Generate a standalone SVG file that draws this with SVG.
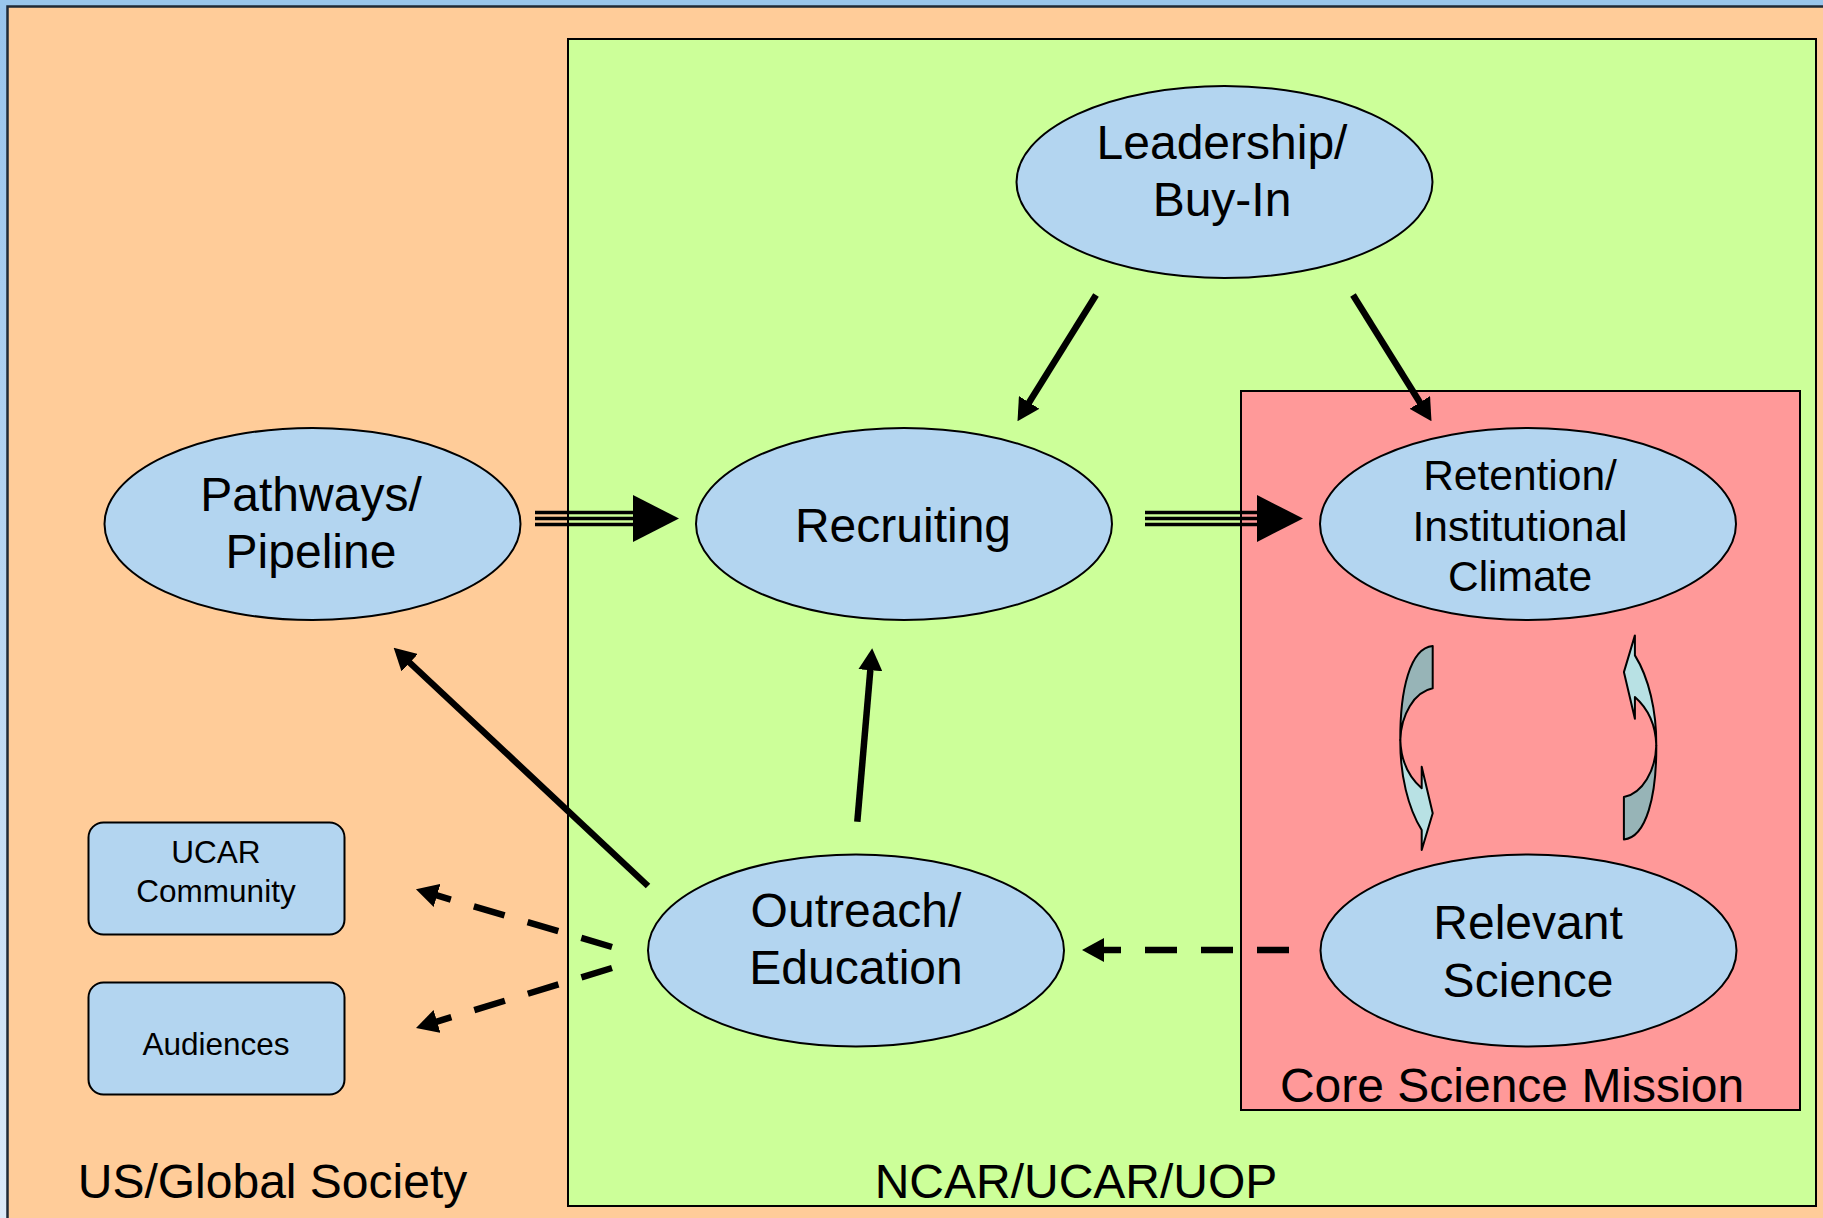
<svg xmlns="http://www.w3.org/2000/svg" width="1823" height="1218" viewBox="0 0 1823 1218">
  <defs>
    <linearGradient id="bgGrad" x1="0" y1="0" x2="0" y2="1">
      <stop offset="0" stop-color="#98C4EC"/>
      <stop offset="1" stop-color="#DCEAF8"/>
    </linearGradient>
    <marker id="ah" viewBox="0 0 22 24" markerWidth="22" markerHeight="24" refX="1" refY="12" orient="auto" markerUnits="userSpaceOnUse">
      <path d="M0,0 L22,12 L0,24 z" fill="#000"/>
    </marker>
    <marker id="bigah" viewBox="0 0 46 47" markerWidth="46" markerHeight="47" refX="1" refY="23.5" orient="auto" markerUnits="userSpaceOnUse">
      <path d="M0,0 L46,23.5 L0,47 z" fill="#000"/>
    </marker>
    <style>
      .lbl { font-family: "Liberation Sans", Arial, sans-serif; fill: #000; }
      .big { font-size: 48px; }
      .mid { font-size: 42.5px; }
      .small { font-size: 31.5px; }
      .node { fill: #B3D5F0; stroke: #000; stroke-width: 2; }
      .solid { stroke: #000; stroke-width: 6.5; fill: none; marker-end: url(#ah); }
      .dashed { stroke: #000; stroke-width: 6.5; fill: none; stroke-dasharray: 32 24; marker-end: url(#ah); }
      .triple { stroke: #000; stroke-width: 3.6; fill: none; }
      .cdark { fill: #97B4B7; stroke: #000; stroke-width: 2; stroke-linejoin: round; }
      .clight { fill: #B8E1E4; stroke: #000; stroke-width: 2; stroke-linejoin: round; }
    </style>
  </defs>

  <!-- background -->
  <rect x="0" y="0" width="1823" height="1218" fill="url(#bgGrad)"/>
  <rect x="0" y="0" width="1823" height="8" fill="#99C6EC"/>

  <g id="us-global-society">
    <rect x="7.5" y="6.5" width="1830" height="1230" fill="#FFCC99" stroke="#1F2A36" stroke-width="2.5"/>
    <text class="lbl big" x="272.5" y="1198" text-anchor="middle">US/Global Society</text>
  </g>

  <g id="ncar-ucar-uop">
    <rect x="568" y="39" width="1248" height="1167" fill="#CCFF99" stroke="#000" stroke-width="2"/>
    <text class="lbl big" x="1076" y="1198" text-anchor="middle">NCAR/UCAR/UOP</text>
  </g>

  <g id="core-science-mission">
    <rect x="1241" y="391" width="559" height="719" fill="#FF9999" stroke="#000" stroke-width="2"/>
    <text class="lbl big" x="1512" y="1102" text-anchor="middle">Core Science Mission</text>
  </g>

  <g id="leadership">
    <ellipse class="node" cx="1224.5" cy="182" rx="208" ry="96"/>
    <text class="lbl big" x="1222" y="159" text-anchor="middle">Leadership/</text>
    <text class="lbl big" x="1222" y="216" text-anchor="middle">Buy-In</text>
  </g>

  <g id="pathways">
    <ellipse class="node" cx="312.5" cy="524" rx="208" ry="96"/>
    <text class="lbl big" x="311" y="511" text-anchor="middle">Pathways/</text>
    <text class="lbl big" x="311" y="568" text-anchor="middle">Pipeline</text>
  </g>

  <g id="recruiting">
    <ellipse class="node" cx="904" cy="524" rx="208" ry="96"/>
    <text class="lbl big" x="903" y="542" text-anchor="middle">Recruiting</text>
  </g>

  <g id="retention">
    <ellipse class="node" cx="1528" cy="524" rx="208" ry="96"/>
    <text class="lbl mid" x="1520" y="490" text-anchor="middle">Retention/</text>
    <text class="lbl mid" x="1520" y="541" text-anchor="middle">Institutional</text>
    <text class="lbl mid" x="1520" y="591" text-anchor="middle">Climate</text>
  </g>

  <g id="outreach">
    <ellipse class="node" cx="856" cy="950.5" rx="208" ry="96"/>
    <text class="lbl big" x="856" y="927" text-anchor="middle">Outreach/</text>
    <text class="lbl big" x="856" y="984" text-anchor="middle">Education</text>
  </g>

  <g id="relevant-science">
    <ellipse class="node" cx="1528.5" cy="950.5" rx="208" ry="96"/>
    <text class="lbl big" x="1528" y="939" text-anchor="middle">Relevant</text>
    <text class="lbl big" x="1528" y="997" text-anchor="middle">Science</text>
  </g>

  <g id="ucar-community">
    <rect class="node" x="88.5" y="822.5" width="256" height="112" rx="15" ry="15"/>
    <text class="lbl small" x="216" y="863" text-anchor="middle">UCAR</text>
    <text class="lbl small" x="216" y="902" text-anchor="middle">Community</text>
  </g>

  <g id="audiences">
    <rect class="node" x="88.5" y="982.5" width="256" height="112" rx="15" ry="15"/>
    <text class="lbl small" x="216" y="1055" text-anchor="middle">Audiences</text>
  </g>

  <g id="connectors">
    <!-- Pathways -> Recruiting (triple line) -->
    <line class="triple" x1="535" y1="512.5" x2="636" y2="512.5"/>
    <line class="triple" x1="535" y1="518.5" x2="634" y2="518.5" marker-end="url(#bigah)"/>
    <line class="triple" x1="535" y1="524.5" x2="636" y2="524.5"/>
    <!-- Recruiting -> Retention (triple line) -->
    <line class="triple" x1="1145" y1="512.5" x2="1260" y2="512.5"/>
    <line class="triple" x1="1145" y1="518.5" x2="1258" y2="518.5" marker-end="url(#bigah)"/>
    <line class="triple" x1="1145" y1="524.5" x2="1260" y2="524.5"/>
    <!-- Leadership -> Recruiting -->
    <line class="solid" x1="1096" y1="295" x2="1028.6" y2="403.3"/>
    <!-- Leadership -> Retention -->
    <line class="solid" x1="1353" y1="295" x2="1420.4" y2="403.3"/>
    <!-- Outreach -> Pathways -->
    <line class="solid" x1="648" y1="886" x2="409" y2="662"/>
    <!-- Outreach -> Recruiting -->
    <line class="solid" x1="857.3" y1="821.7" x2="870.4" y2="669.2"/>
    <!-- Outreach -> UCAR Community (dashed) -->
    <line class="dashed" x1="612" y1="947" x2="436.1" y2="895.2"/>
    <!-- Outreach -> Audiences (dashed) -->
    <line class="dashed" x1="612" y1="968" x2="436.1" y2="1021.8"/>
    <!-- Relevant Science -> Outreach (dashed) -->
    <line class="dashed" x1="1289" y1="950" x2="1103" y2="950"/>
    <!-- curved arrows between Retention and Relevant Science -->
    <g id="curved-left">
      <path class="cdark" d="M1432.7,646 C1410,648 1400,690 1400.3,740 C1401,715 1414,692 1432.7,688.3 Z"/>
      <path class="clight" d="M1400.3,740 C1400,775 1408,808 1421.7,830 L1421.7,850 L1432.7,813.3 L1421.7,766.7 L1421.7,788.3 C1410,778 1401,762 1400.3,740 Z"/>
    </g>
    <g id="curved-right" transform="rotate(180 1528.3 742.7)">
      <path class="cdark" d="M1432.7,646 C1410,648 1400,690 1400.3,740 C1401,715 1414,692 1432.7,688.3 Z"/>
      <path class="clight" d="M1400.3,740 C1400,775 1408,808 1421.7,830 L1421.7,850 L1432.7,813.3 L1421.7,766.7 L1421.7,788.3 C1410,778 1401,762 1400.3,740 Z"/>
    </g>
  </g>
</svg>
